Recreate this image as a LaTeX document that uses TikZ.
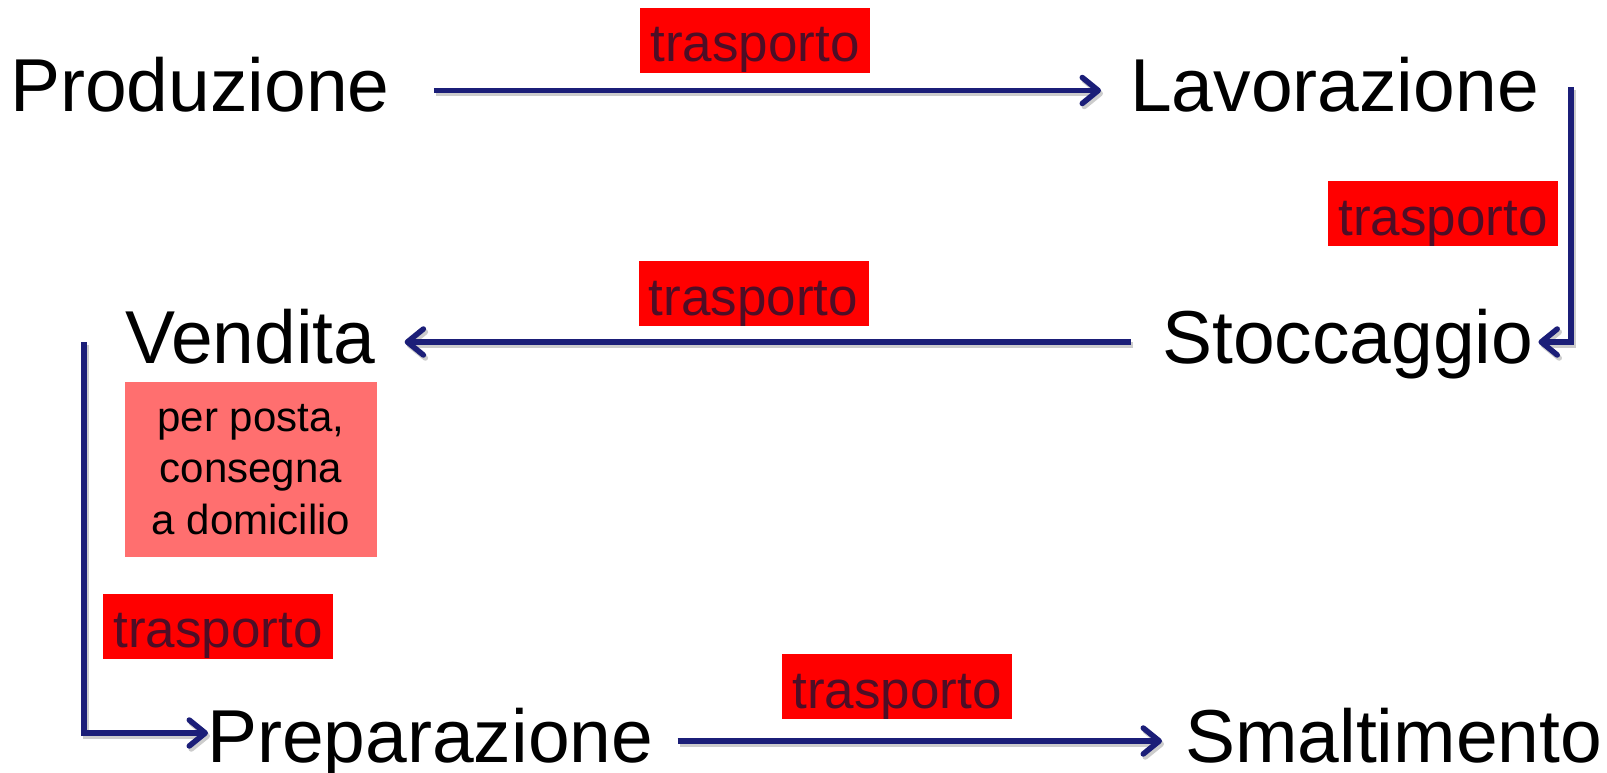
\documentclass[tikz,border=0pt]{standalone}
\usepackage{fontspec}
\setmainfont{Liberation Sans}
\usetikzlibrary{arrows.meta}
\definecolor{navyc}{RGB}{27,30,120}
\definecolor{redbox}{RGB}{255,0,0}
\definecolor{pinkbox}{RGB}{255,111,111}
\definecolor{maroonc}{RGB}{78,14,38}
\begin{document}
\begin{tikzpicture}[x=1pt,y=1pt,
  big/.style={inner sep=0pt, anchor=base west, text height=56pt, text depth=14pt, font=\fontsize{75}{90}\selectfont},
  tbox/.style={fill=redbox, text=maroonc, inner xsep=0pt, inner ysep=0pt, minimum width=230pt, minimum height=65pt, text height=54pt, text depth=11pt, font=\fontsize{53}{60}\selectfont},
  notebox/.style={fill=pinkbox, minimum width=252pt, minimum height=175pt, inner sep=0pt, align=center, font=\fontsize{42}{51.5}\selectfont},
  arr/.style={draw=navyc, line width=5.5pt, -{Straight Barb[length=16pt,width=26pt,round]},
    preaction={draw=black!20, line width=5.5pt, transform canvas={shift={(2pt,-3pt)}}}}]
\useasboundingbox (0,0) rectangle (1607,-773);

\node[big] (prod) at (10,-111.5) {Produzione};
\node[big] (lav) at (1130,-111.5) {Lavorazione};
\node[big] (sto) at (1162,-363) {Stoccaggio};
\node[big] (vend) at (125,-363) {Vendita};
\node[big] (prep) at (207,-762) {Preparazione};
\node[big] (smal) at (1185,-762) {Smaltimento};

\node[tbox] (t1) at (755,-40.5) {trasporto};
\node[tbox] (t2) at (1443,-213.5) {trasporto};
\node[tbox] (t3) at (753.5,-293.5) {trasporto};
\node[tbox] (t4) at (218,-626) {trasporto};
\node[tbox] (t5) at (897,-686.5) {trasporto};
\node[notebox] (note) at (251,-469.5) {per posta,\\consegna\\a domicilio};

\draw[arr, shorten <=44pt, shorten >=29pt] (prod.east) -- (lav.west);
\draw[arr] ([xshift=32pt,yshift=3pt]lav.east) |- ([xshift=5pt]sto.east);
\draw[arr] ([xshift=-31pt]sto.west) -- ([xshift=29pt]vend.east);
\draw[arr] ([xshift=-41pt]vend.west) |- ([xshift=1pt,yshift=8pt]prep.west);
\draw[arr, shorten <=24pt, shorten >=23pt] (prep.east) -- (smal.west);
\end{tikzpicture}
\end{document}
